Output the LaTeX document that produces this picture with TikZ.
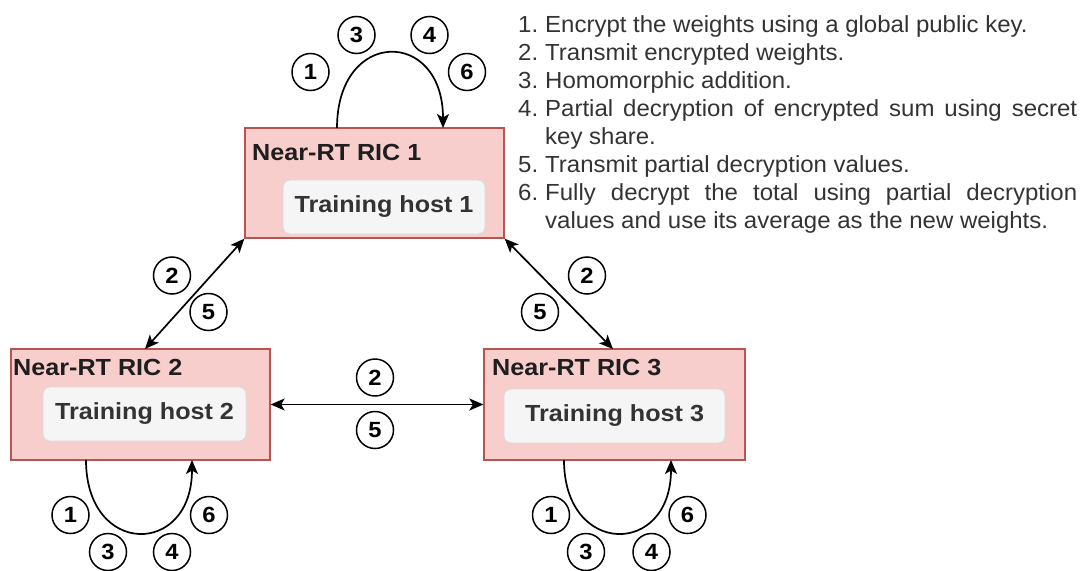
\documentclass[tikz,border=0pt]{standalone}
\usepackage{fontspec}
\setmainfont{Liberation Sans}[FakeStretch=1.08]
\newfontfamily\listfont{Liberation Sans}[FakeStretch=1.03]
\usetikzlibrary{arrows.meta}

\definecolor{ricfill}{HTML}{F8CECC}
\definecolor{ricdraw}{HTML}{B85450}
\definecolor{hostfill}{HTML}{F5F5F5}
\definecolor{hostdraw}{HTML}{DADADA}
\definecolor{txt}{HTML}{333333}
\definecolor{ttl}{HTML}{1E1E1E}

\tikzset{
  ric/.style={draw=ricdraw, fill=ricfill, line width=1.3pt, inner sep=0pt},
  host/.style={draw=hostdraw, fill=hostfill, rounded corners=7pt, line width=0.8pt,
    inner sep=0pt, minimum height=54pt, text=txt,
    font=\bfseries\fontsize{23.3}{28}\selectfont},
  ttlbl/.style={anchor=base west, inner sep=0pt, text=ttl,
    font=\bfseries\fontsize{23.3}{28}\selectfont},
  num/.style={draw, circle, line width=1.5pt, minimum size=37pt, inner sep=0pt,
    font=\bfseries\fontsize{22}{22}\selectfont},
  link/.style={line width=1.7pt, {Stealth[length=14pt,width=12pt,inset=3.5pt]}-{Stealth[length=14pt,width=12pt,inset=3.5pt]}},
  loop/.style={line width=1.7pt, -{Stealth[length=14pt,width=12pt,inset=3.5pt]}},
  item/.style={anchor=base west, inner sep=0pt, text=txt,
    font=\listfont\fontsize{23.3}{28}\selectfont},
}

\newcommand{\itemno}[1]{\makebox[27pt][l]{#1}}

\begin{document}
\begin{tikzpicture}[x=1pt,y=-1pt]
\useasboundingbox (0,0) rectangle (1081,570);

% Near-RT RIC containers
\node[ric, minimum width=259pt, minimum height=110pt] (ric1) at (374.5,183) {};
\node[ric, minimum width=259pt, minimum height=111pt] (ric2) at (140.5,404.5) {};
\node[ric, minimum width=261pt, minimum height=111pt] (ric3) at (614.5,404.5) {};

\node[ttlbl] (t1) at (252,160) {Near-RT RIC 1};
\node[ttlbl] (t2) at (13,375) {Near-RT RIC 2};
\node[ttlbl] (t3) at (492,375) {Near-RT RIC 3};

% training hosts
\node[host, minimum width=202pt] (h1) at (384,207) {Training host 1};
\node[host, minimum width=203pt] (h2) at (144.5,414) {Training host 2};
\node[host, minimum width=221pt] (h3) at (614.5,416) {Training host 3};

% links between the RICs
\coordinate (d2) at (145,349);
\coordinate (d3) at (613,349);
\draw[link] (ric1.south west) -- (d2);
\draw[link] (ric1.south east) -- (d3);
\draw[link] (ric2.east) -- (ric3.west);

% local loops
\coordinate (a1) at (337,128);
\coordinate (b1) at (443,128);
\draw[loop] (a1) .. controls (337,28) and (443,28) .. (b1);
\coordinate (a2) at (86,460);
\coordinate (b2) at (192,460);
\draw[loop] (a2) .. controls (86,557) and (192,557) .. (b2);
\coordinate (a3) at (564,460);
\coordinate (b3) at (671,460);
\draw[loop] (a3) .. controls (564,557) and (671,557) .. (b3);

% step markers
\node[num] (n11) at (310.5,72) {1};
\node[num] (n13) at (356.5,35) {3};
\node[num] (n14) at (429.5,35) {4};
\node[num] (n16) at (467,72) {6};

\node[num] (n21) at (70.5,515) {1};
\node[num] (n23) at (108,552) {3};
\node[num] (n24) at (172,552) {4};
\node[num] (n26) at (209,515) {6};

\node[num] (n31) at (551,515) {1};
\node[num] (n33) at (586,552) {3};
\node[num] (n34) at (651.5,552) {4};
\node[num] (n36) at (687.5,515) {6};

\node[num] (l12) at (172,275.5) {2};
\node[num] (l15) at (208.5,312) {5};
\node[num] (r12) at (587,275.5) {2};
\node[num] (r15) at (540,312) {5};
\node[num] (m2) at (375,377.5) {2};
\node[num] (m5) at (375,430) {5};

% legend
\node[item] (s1) at (518,32) {\itemno{1.}Encrypt the weights using a global public key.};
\node[item] (s2) at (518,60) {\itemno{2.}Transmit encrypted weights.};
\node[item] (s3) at (518,88) {\itemno{3.}Homomorphic addition.};
\node[item] (s4) at (518,116) {\itemno{4.}\makebox[532pt][s]{Partial decryption of encrypted sum using secret}};
\node[item] (s4b) at (545,144) {key share.};
\node[item] (s5) at (518,172) {\itemno{5.}Transmit partial decryption values.};
\node[item] (s6) at (518,200) {\itemno{6.}\makebox[532pt][s]{Fully decrypt the total using partial decryption}};
\node[item] (s6b) at (545,228) {values and use its average as the new weights.};
\end{tikzpicture}
\end{document}
